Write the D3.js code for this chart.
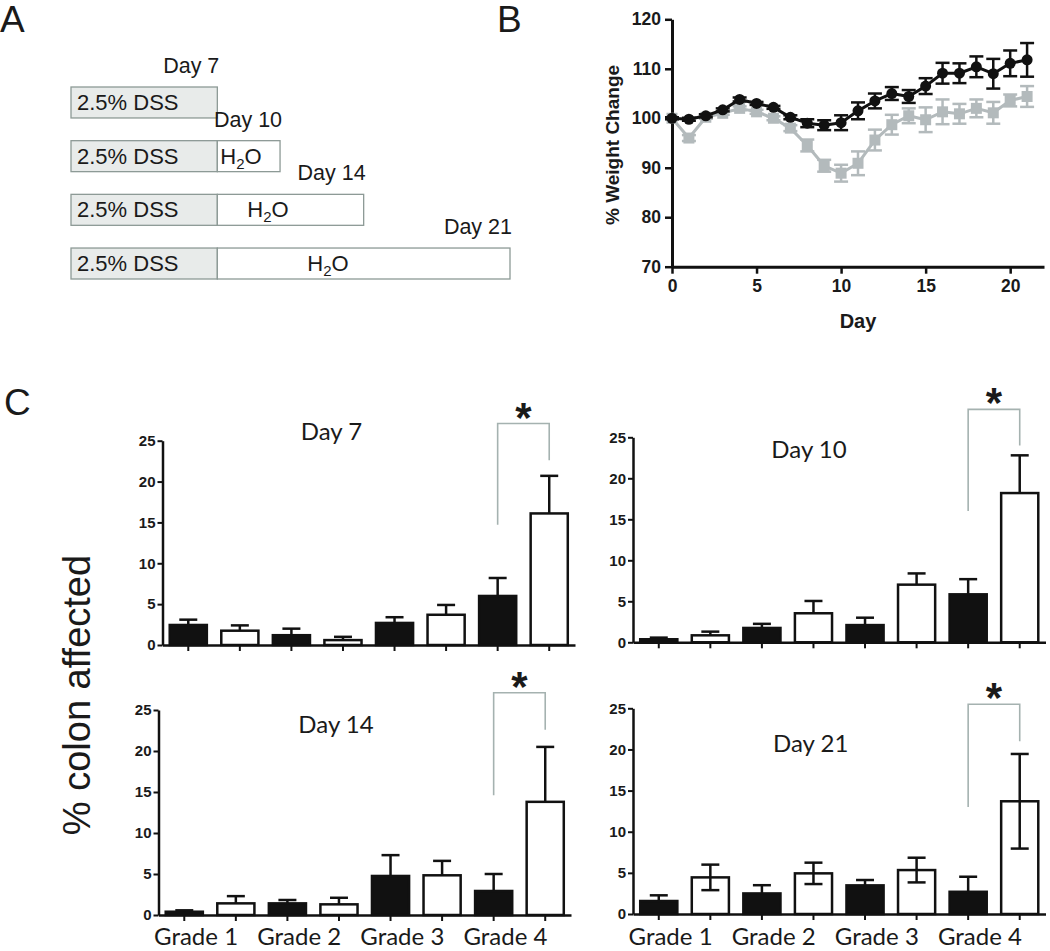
<!DOCTYPE html>
<html>
<head>
<meta charset="utf-8">
<script src="https://cdn.jsdelivr.net/npm/d3@7"></script>
<style>
  body { margin: 0; background: #fff; }
  text { fill: #1a1a1a; }
</style>
</head>
<body>
<svg id="fig" width="1050" height="951"></svg>
<script>
// ---- data ----
// panel A: treatment schedule
const regimenDays = [7, 10, 14, 21];
const dssDays = 7;

// panel B: % weight change per day
const weightDays = [0, 1, 2, 3, 4, 5, 6, 7, 8, 9, 10, 11, 12, 13, 14, 15, 16, 17, 18, 19, 20, 21];
const weightBlack = [100, 99.8, 100.5, 101.7, 103.8, 103, 102.2, 100.2, 99.0, 98.6, 99.1, 101.5, 103.5, 105, 104.4, 106.5, 109.1, 109.1, 110.4, 109, 111.1, 111.8];
const weightBlackErr = [0.2, 0.3, 0.3, 0.3, 0.4, 0.3, 0.3, 0.4, 0.8, 1.0, 1.5, 1.7, 1.5, 1.3, 1.3, 1.6, 2.1, 2.0, 2.1, 3.0, 2.6, 3.4];
const weightGray = [100, 96, 100.2, 101, 102, 101.3, 100, 98, 94.5, 90.4, 88.9, 90.9, 95.6, 98.7, 100.5, 99.7, 101.3, 100.9, 102, 101.1, 103.6, 104.4];
const weightGrayErr = [0.2, 0.6, 0.3, 0.3, 0.4, 0.4, 0.4, 0.6, 1.2, 1.2, 1.7, 2.4, 2.1, 2.0, 1.5, 2.5, 2.5, 2.0, 1.8, 2.2, 1.2, 2.1];
const weightTicksX = [0, 5, 10, 15, 20];
const weightTicksY = [70, 80, 90, 100, 110, 120];

// panel C: % colon affected by grade (filled = black bars, open = white bars)
const grades = ["Grade 1", "Grade 2", "Grade 3", "Grade 4"];
const day7Filled = [2.45, 1.2, 2.7, 6.0];
const day7FilledErr = [0.65, 0.8, 0.7, 2.2];
const day7Open = [1.75, 0.6, 3.7, 16.1];
const day7OpenErr = [0.65, 0.4, 1.2, 4.6];
const day10Filled = [0.37, 1.75, 2.1, 5.85];
const day10FilledErr = [0.2, 0.5, 0.9, 1.85];
const day10Open = [0.85, 3.54, 7.03, 18.2];
const day10OpenErr = [0.45, 1.5, 1.37, 4.6];
const day14Filled = [0.4, 1.42, 4.76, 2.93];
const day14FilledErr = [0.17, 0.41, 2.54, 2.07];
const day14Open = [1.42, 1.3, 4.84, 13.8];
const day14OpenErr = [0.88, 0.8, 1.76, 6.7];
const day21Filled = [1.58, 2.5, 3.48, 2.7];
const day21FilledErr = [0.69, 1.0, 0.65, 1.83];
const day21Open = [4.45, 4.94, 5.34, 13.7];
const day21OpenErr = [1.55, 1.3, 1.5, 5.75];
const colonTicks = [0, 5, 10, 15, 20, 25];

const svg = d3.select("#fig");
const sans = "'Liberation Sans', Arial, sans-serif";
const calib = "Lato, 'Open Sans', sans-serif";

// panel letters
[["A", 0, 32], ["B", 497, 32], ["C", 4, 415]].forEach(([t, x, y]) => {
  svg.append("text").attr("x", x).attr("y", y)
    .style("font", `37px ${sans}`).text(t);
});

// ================= Panel A =================
const ax = d3.scaleLinear().domain([0, 21]).range([71, 510]);
const rowY = d3.scaleBand().domain(regimenDays).range([87, 279]).paddingInner(0.423);
const waterLabelOffset = { 10: 3, 14: 30, 21: 90 };
const boxStroke = "#8d9a96";

regimenDays.forEach(d => {
  const g = svg.append("g");
  const y = rowY(d), h = rowY.bandwidth();
  g.append("rect")
    .attr("x", ax(0)).attr("y", y)
    .attr("width", ax(dssDays) - ax(0)).attr("height", h)
    .attr("fill", "#e8ebea").attr("stroke", boxStroke).attr("stroke-width", 1.3);
  if (d > dssDays) {
    g.append("rect")
      .attr("x", ax(dssDays)).attr("y", y)
      .attr("width", ax(d) - ax(dssDays)).attr("height", h)
      .attr("fill", "#fff").attr("stroke", boxStroke).attr("stroke-width", 1.3);
    const t = g.append("text")
      .attr("x", ax(dssDays) + waterLabelOffset[d]).attr("y", y + 23)
      .style("font", `22px ${sans}`);
    t.append("tspan").text("H");
    t.append("tspan").attr("dy", 5).style("font-size", "15px").text("2");
    t.append("tspan").attr("dy", -5).text("O");
  }
  g.append("text")
    .attr("x", ax(0) + 6).attr("y", y + 23)
    .style("font", `22px ${sans}`).text("2.5% DSS");
  g.append("text")
    .attr("x", ax(d) + 2).attr("y", y - 14)
    .attr("text-anchor", "end")
    .style("font", `21.5px ${sans}`).text("Day " + d);
});

// ================= Panel B =================
const bx = d3.scaleLinear().domain([0, 22]).range([672, 1044]);
const by = d3.scaleLinear().domain([70, 120]).range([266.7, 19.3]);
const grayCol = "#b3babc";

const gB = svg.append("g");
const xAxisB = gB.append("g").attr("transform", `translate(0,${by(70)})`)
  .call(d3.axisBottom(bx).tickValues(weightTicksX).tickSize(7).tickSizeOuter(0).tickPadding(6));
const yAxisB = gB.append("g").attr("transform", `translate(${bx(0)},0)`)
  .call(d3.axisLeft(by).tickValues(weightTicksY).tickSize(7).tickSizeOuter(0).tickPadding(4));
[xAxisB, yAxisB].forEach(a => {
  a.select(".domain").attr("stroke", "#111").attr("stroke-width", 3);
  a.selectAll(".tick line").attr("stroke", "#111").attr("stroke-width", 2.5);
  a.selectAll(".tick text").style("font", `bold 17.5px ${sans}`).attr("fill", "#1a1a1a");
});
gB.append("text").attr("x", bx(11)).attr("y", 328).attr("text-anchor", "middle")
  .style("font", `bold 20px ${sans}`).text("Day");
gB.append("text")
  .attr("transform", `translate(619,${by(95) + 2}) rotate(-90)`)
  .attr("text-anchor", "middle")
  .style("font", `bold 19px ${sans}`).text("% Weight Change");

function weightSeries(vals, errs, color, shape) {
  const pts = weightDays.map((d, i) => ({ day: d, v: vals[i], e: errs[i] }));
  const g = gB.append("g");
  const line = d3.line().x(d => bx(d.day)).y(d => by(d.v));
  g.append("path").datum(pts)
    .attr("fill", "none").attr("stroke", color)
    .attr("stroke-width", 3).attr("stroke-linejoin", "round")
    .attr("d", line);
  const eb = g.selectAll(".eb").data(pts).enter().append("g")
    .attr("stroke", color).attr("stroke-width", 2.5);
  eb.append("line")
    .attr("x1", d => bx(d.day)).attr("x2", d => bx(d.day))
    .attr("y1", d => by(d.v - d.e)).attr("y2", d => by(d.v + d.e));
  [1, -1].forEach(sgn => {
    eb.append("line")
      .attr("x1", d => bx(d.day) - 7).attr("x2", d => bx(d.day) + 7)
      .attr("y1", d => by(d.v + sgn * d.e)).attr("y2", d => by(d.v + sgn * d.e));
  });
  if (shape === "circle") {
    g.selectAll(".m").data(pts).enter().append("circle")
      .attr("cx", d => bx(d.day)).attr("cy", d => by(d.v)).attr("r", 5.5)
      .attr("fill", color);
  } else {
    g.selectAll(".m").data(pts).enter().append("rect")
      .attr("x", d => bx(d.day) - 5.5).attr("y", d => by(d.v) - 5.5)
      .attr("width", 11).attr("height", 11)
      .attr("fill", color);
  }
}
weightSeries(weightGray, weightGrayErr, grayCol, "square");
weightSeries(weightBlack, weightBlackErr, "#111", "circle");

// ================= Panel C =================
svg.append("text")
  .attr("transform", "translate(90,695) rotate(-90)")
  .attr("text-anchor", "middle")
  .style("font", `38px ${sans}`).text("% colon affected");

const panels = [
  { title: "Day 7", filled: day7Filled, filledErr: day7FilledErr, open: day7Open, openErr: day7OpenErr,
    x0: 162.5, x1: 575, yZero: 645, yTop: 440.7, titleDx: 169, titleY: 440,
    bracket: [14.7, 27.1, 22.6], bothSides: false, showGrades: false },
  { title: "Day 10", filled: day10Filled, filledErr: day10FilledErr, open: day10Open, openErr: day10OpenErr,
    x0: 633, x1: 1045.5, yZero: 642.3, yTop: 437.3, titleDx: 176, titleY: 458,
    bracket: [16.0, 28.4, 24.0], bothSides: false, showGrades: false },
  { title: "Day 14", filled: day14Filled, filledErr: day14FilledErr, open: day14Open, openErr: day14OpenErr,
    x0: 158.5, x1: 571, yZero: 915, yTop: 710, titleDx: 177.5, titleY: 733,
    bracket: [14.6, 27.1, 22.6], bothSides: false, showGrades: true },
  { title: "Day 21", filled: day21Filled, filledErr: day21FilledErr, open: day21Open, openErr: day21OpenErr,
    x0: 633, x1: 1045.5, yZero: 914, yTop: 708.3, titleDx: 177.7, titleY: 752,
    bracket: [13.0, 25.5, 21.0], bothSides: true, showGrades: true }
];

panels.forEach(p => {
  const g = svg.append("g");
  const idx = d3.range(grades.length * 2);
  const x = d3.scaleBand().domain(idx).range([p.x0, p.x1]).paddingInner(0.28).paddingOuter(0.14);
  const y = d3.scaleLinear().domain([0, 25]).range([p.yZero, p.yTop]);
  const cx = i => x(i) + x.bandwidth() / 2;

  const bars = idx.map(i => {
    const gi = Math.floor(i / 2), open = i % 2 === 1;
    return { i, open, v: open ? p.open[gi] : p.filled[gi], e: open ? p.openErr[gi] : p.filledErr[gi] };
  });

  g.selectAll(".bar").data(bars).enter().append("rect")
    .attr("x", d => x(d.i)).attr("width", x.bandwidth())
    .attr("y", d => y(d.v)).attr("height", d => y(0) - y(d.v))
    .attr("fill", d => d.open ? "#fff" : "#111")
    .attr("stroke", "#111").attr("stroke-width", 2.5);

  const eb = g.selectAll(".eb").data(bars).enter().append("g")
    .attr("stroke", "#111").attr("stroke-width", 2.5);
  const lowV = d => (p.bothSides && d.open) ? d.v - d.e : d.v;
  eb.append("line")
    .attr("x1", d => cx(d.i)).attr("x2", d => cx(d.i))
    .attr("y1", d => y(lowV(d))).attr("y2", d => y(d.v + d.e));
  eb.append("line")
    .attr("x1", d => cx(d.i) - 9).attr("x2", d => cx(d.i) + 9)
    .attr("y1", d => y(d.v + d.e)).attr("y2", d => y(d.v + d.e));
  eb.filter(d => p.bothSides && d.open).append("line")
    .attr("x1", d => cx(d.i) - 9).attr("x2", d => cx(d.i) + 9)
    .attr("y1", d => y(d.v - d.e)).attr("y2", d => y(d.v - d.e));

  const xa = g.append("g").attr("transform", `translate(0,${y(0)})`)
    .call(d3.axisBottom(x).tickFormat("").tickSize(6).tickSizeOuter(0));
  const ya = g.append("g").attr("transform", `translate(${p.x0},0)`)
    .call(d3.axisLeft(y).tickValues(colonTicks).tickSize(5).tickSizeOuter(0).tickPadding(2));
  [xa, ya].forEach(a => {
    a.select(".domain").attr("stroke", "#111").attr("stroke-width", 2.5);
    a.selectAll(".tick line").attr("stroke", "#111").attr("stroke-width", 2);
    a.selectAll(".tick text").style("font", `bold 15px ${sans}`).attr("fill", "#1a1a1a");
  });

  g.append("text").attr("x", p.x0 + p.titleDx).attr("y", p.titleY)
    .attr("text-anchor", "middle").style("font", `24px ${calib}`).text(p.title);

  // significance bracket between grade 4 bars
  const xl = cx(6), xr = cx(7);
  const [b0, b1, b2] = p.bracket;
  g.append("path")
    .attr("d", `M${xl},${y(b0)}V${y(b1)}H${xr}V${y(b2)}`)
    .attr("fill", "none").attr("stroke", "#a5b2b0").attr("stroke-width", 1.6);
  g.append("text").attr("x", (xl + xr) / 2).attr("y", y(b1) + 8)
    .attr("text-anchor", "middle").style("font", `bold 42px ${sans}`).text("*");

  if (p.showGrades) {
    grades.forEach((gr, gi) => {
      g.append("text")
        .attr("x", (cx(2 * gi) + cx(2 * gi + 1)) / 2 - 14).attr("y", 945)
        .attr("text-anchor", "middle").style("font", `24px ${calib}`).text(gr);
    });
  }
});
</script>
</body>
</html>
